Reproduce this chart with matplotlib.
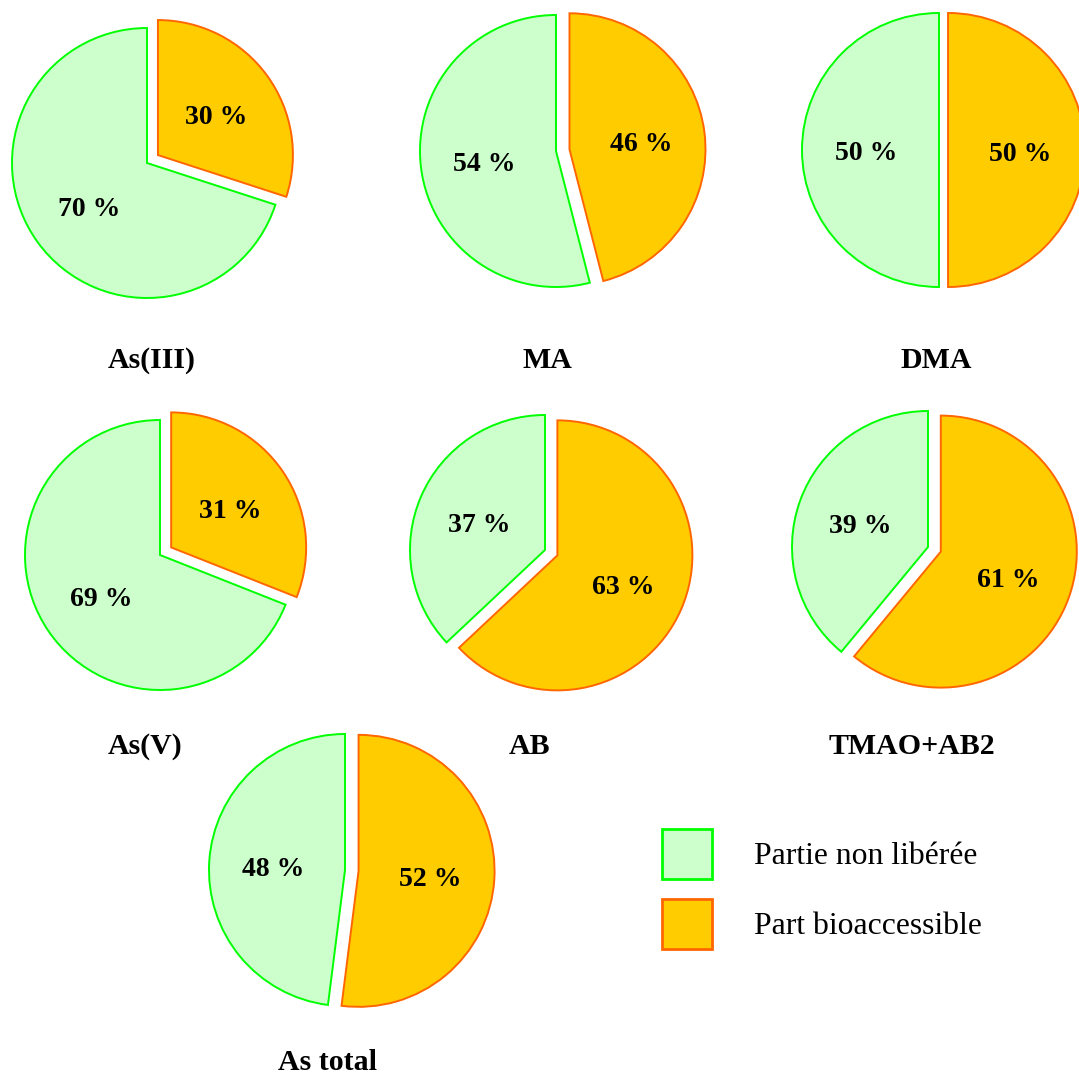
import matplotlib
matplotlib.use("Agg")
import matplotlib.pyplot as plt
from matplotlib.patches import Patch
from matplotlib.transforms import ScaledTranslation

# ---- data ----
species = ["As(III)", "MA", "DMA", "As(V)", "AB", "TMAO+AB2", "As total"]
bioaccessible = [30, 46, 50, 31, 63, 61, 52]
non_liberee = [70, 54, 50, 69, 37, 39, 48]
legend_labels = ["Partie non libérée", "Part bioaccessible"]

# ---- styles / layout ----
W, H = 1079, 1075
GREEN_FILL, GREEN_EDGE = "#CCFFCC", "#00FF00"
ORANGE_FILL, ORANGE_EDGE = "#FFCC00", "#FF6600"
centers = [(147, 163), (556, 151), (939, 150), (160, 555), (545, 550), (928, 547), (345, 870)]
radii = [135, 136, 137, 135, 135, 136, 136]
explodes = [0.1, 0.1, 0.066, 0.1, 0.1, 0.1, 0.1]
title_pos = [(152, 360), (547, 360), (936, 360), (145, 746), (530, 746), (912, 746), (327, 1063)]
SERIF = ["Liberation Serif", "DejaVu Serif"]

fig = plt.figure(figsize=(W / 100, H / 100), dpi=100)
shift_down = ScaledTranslation(0, -0.04, fig.dpi_scale_trans)

for name, b, n, (cx, cy), r, e, (tx, ty) in zip(species, bioaccessible, non_liberee,
                                                 centers, radii, explodes, title_pos):
    S = 2 * 1.25 * r
    ax = fig.add_axes([(cx - S / 2) / W, 1 - (cy + S / 2) / H, S / W, S / H])
    wedges, texts, autotexts = ax.pie(
        [b, n], colors=[ORANGE_FILL, GREEN_FILL], startangle=90, counterclock=False,
        explode=[e, 0], autopct=lambda p: f"{p:.0f} %", pctdistance=0.53,
        wedgeprops=dict(linewidth=1.4),
        textprops=dict(fontfamily=SERIF, fontweight="bold", fontsize=20, color="black"))
    wedges[0].set_edgecolor(ORANGE_EDGE)
    wedges[1].set_edgecolor(GREEN_EDGE)
    for t in autotexts:
        t.set_transform(t.get_transform() + shift_down)
    ax.set_xlim(-1.25, 1.25)
    ax.set_ylim(-1.25, 1.25)
    ax.set_aspect("equal")
    ax.axis("off")
    fig.text(tx / W, 1 - ty / H, name, ha="center", va="center",
             fontfamily=SERIF, fontweight="bold", fontsize=21.5)

handles = [Patch(facecolor=GREEN_FILL, edgecolor=GREEN_EDGE, linewidth=2),
           Patch(facecolor=ORANGE_FILL, edgecolor=ORANGE_EDGE, linewidth=2)]
fig.legend(handles, legend_labels, loc="upper left",
           bbox_to_anchor=(662 / W, 1 - 829 / H), frameon=False,
           prop=dict(family=SERIF, size=22.8), handlelength=1.58, handleheight=2.05,
           labelspacing=0.63, handletextpad=1.33, borderpad=0, borderaxespad=0)

fig.savefig("out.png", dpi=100)
